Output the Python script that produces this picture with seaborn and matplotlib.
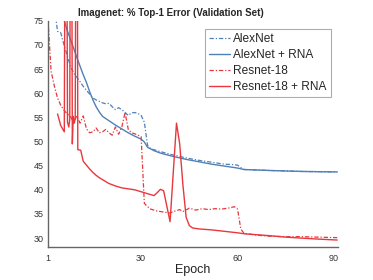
import numpy as np
import pandas as pd
import seaborn as sns
import matplotlib
matplotlib.use("Agg")
import matplotlib.pyplot as plt

# --- data (epoch, top-1 error %) ---
alex_epoch = [3, 4, 5, 6, 7, 8, 9, 10, 11, 12, 13, 14, 15, 16, 17, 18, 19, 20,
              21, 22, 23, 24, 25, 26, 27, 28, 29, 30, 31, 32, 33, 36, 40, 44,
              48, 52, 56, 59, 60, 61, 62, 70, 80, 91]
alex_err = [78.0, 72.8, 72.5, 70.0, 67.8, 65.6, 64.2, 63.3, 62.4, 61.4, 60.6,
            59.8, 59.0, 58.6, 58.3, 58.0, 57.8, 57.9, 57.2, 56.6, 57.0, 56.6,
            56.0, 55.4, 55.9, 56.0, 55.8, 55.4, 54.0, 49.2, 48.5, 47.9, 47.2,
            46.6, 46.1, 45.7, 45.3, 45.2, 45.1, 44.6, 44.2, 44.0, 43.8, 43.7]

alex_rna_epoch = [5, 6, 7, 8, 9, 10, 11, 12, 13, 14, 15, 16, 17, 18, 20, 22,
                  24, 26, 28, 30, 31, 32, 34, 36, 40, 44, 48, 52, 56, 60, 62,
                  70, 80, 91]
alex_rna_err = [77.5, 75.2, 73.0, 71.2, 69.3, 67.4, 65.6, 63.8, 62.2, 60.3,
                58.6, 57.2, 56.1, 55.2, 54.3, 53.4, 52.6, 51.8, 51.1, 50.5,
                49.9, 48.8, 48.1, 47.6, 46.9, 46.3, 45.8, 45.3, 44.9, 44.5,
                44.2, 44.0, 43.8, 43.7]

res_epoch = [1, 2, 3, 4, 5, 6, 7, 8, 9, 10, 11, 12, 13, 14, 15, 16, 17, 18,
             19, 20, 21, 22, 23, 24, 25, 26, 27, 28, 29, 30, 31, 32, 33, 35,
             37, 39, 40, 42, 43, 45, 47, 49, 51, 53, 55, 57, 59, 60, 61, 62,
             66, 70, 75, 80, 85, 91]
res_err = [75.5, 64.5, 61.5, 59.0, 57.5, 56.5, 55.7, 55.2, 54.0, 55.3, 53.8,
           55.3, 52.6, 51.8, 52.0, 52.8, 51.8, 52.0, 52.5, 51.8, 51.3, 53.0,
           51.5, 53.0, 56.0, 52.5, 51.8, 51.6, 51.3, 51.0, 37.2, 36.5, 36.0,
           35.6, 35.4, 35.2, 35.5, 35.9, 35.5, 36.2, 35.8, 36.1, 35.9, 36.1,
           36.0, 36.2, 36.5, 36.0, 31.9, 31.0, 30.6, 30.4, 30.3, 30.3, 30.2,
           30.1]

res_rna_epoch = [4, 5, 6.1, 6.6, 7.1, 7.5, 7.8, 8.2, 8.6, 8.9, 9.2, 9.5, 10.0,
                 10.3, 11.2, 12, 13, 14, 15, 16, 17, 18, 19, 20, 22, 24, 26,
                 28, 30, 32, 34, 35, 36, 37, 39, 40, 41, 42, 43, 44, 45, 46,
                 48, 52, 56, 60, 62, 66, 70, 75, 80, 85, 91]
res_rna_err = [55.7, 53.3, 52.0, 150.0, 54.0, 53.0, 54.5, 150.0, 49.5, 55.2,
               53.8, 54.8, 150.0, 48.3, 48.2, 45.9, 45.1, 44.3, 43.6, 43.0,
               42.5, 42.1, 41.7, 41.3, 40.8, 40.4, 40.2, 40.0, 39.6, 39.2,
               38.8, 39.4, 40.1, 39.8, 33.4, 43.6, 53.8, 49.5, 41.0, 34.3,
               32.6, 32.1, 31.9, 31.7, 31.4, 31.1, 30.9, 30.7, 30.5, 30.2,
               30.0, 29.8, 29.6]

x_ticks = [1, 30, 60, 90]
y_ticks = [30, 35, 40, 45, 50, 55, 60, 65, 70, 75]

blue = "#4f80b8"
red = "#e8383d"
dashdot = (0, (3.5, 1.5, 1, 1.5))

sns.set_style("white")
plt.rcParams["font.family"] = ["Liberation Sans", "DejaVu Sans"]

fig = plt.figure(figsize=(3.73, 2.8), dpi=100)
ax = fig.add_axes([0.1284, 0.1168, 0.777, 0.8092])

series = [
    (alex_epoch, alex_err, "AlexNet", blue, dashdot, 0.9),
    (alex_rna_epoch, alex_rna_err, "AlexNet + RNA", blue, "-", 1.0),
    (res_epoch, res_err, "Resnet-18", red, dashdot, 0.9),
    (res_rna_epoch, res_rna_err, "Resnet-18 + RNA", red, "-", 1.0),
]
for ep, err, name, col, ls, lw in series:
    d = pd.DataFrame({"epoch": ep, "err": err})
    sns.lineplot(data=d, x="epoch", y="err", ax=ax, color=col,
                 linestyle=ls, linewidth=lw, label=name, estimator=None)

ax.set_xlim(1, 91.15)
ax.set_ylim(28.1, 75)
ax.set_xticks(x_ticks)
ax.set_yticks(y_ticks)
ax.tick_params(direction="in", length=2.5, width=0.8, colors="#666666",
               labelsize=6.5, labelcolor="#333333", pad=3)
ax.tick_params(axis="x", pad=5)
for s in ["top", "right"]:
    ax.spines[s].set_visible(False)
for s in ["left", "bottom"]:
    ax.spines[s].set_color("#666666")
    ax.spines[s].set_linewidth(1.0)

ax.set_ylabel("")
ax.set_xlabel("Epoch", fontsize=9, color="#222222")
ax.xaxis.set_label_coords(0.5, -0.075)

fig.text(171 / 373, 1 - 13 / 280, "Imagenet: % Top-1 Error (Validation Set)",
         ha="center", va="center", fontsize=7, fontweight="bold")

leg = ax.legend(loc="upper right", bbox_to_anchor=(0.976, 0.963),
                borderaxespad=0, fontsize=8.6, frameon=True, fancybox=False,
                handlelength=1.75, handletextpad=0.25, labelspacing=0.33,
                borderpad=0.35)
leg.get_frame().set_edgecolor("#999999")
leg.get_frame().set_linewidth(0.8)

fig.savefig("out.png", dpi=100)
